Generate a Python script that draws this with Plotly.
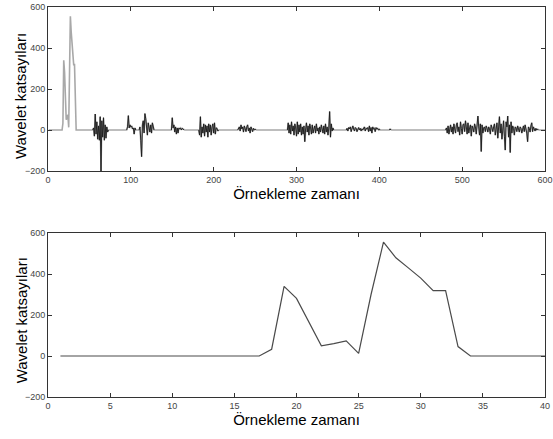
import numpy as np
import plotly.graph_objects as go
from plotly.subplots import make_subplots

# ---- data ----
# lower panel: first 40 samples
zoom_x = list(range(1, 41))
zoom_vals = [0, 0, 0, 0, 0, 0, 0, 0, 0, 0, 0, 0, 0, 0, 0, 0, 0,
             33, 340, 281, 165, 50, 60, 74, 13, 300, 555, 479, 430, 380,
             319, 319, 46, 0, 0, 0, 0, 0, 0, 0]

# upper panel: 600 samples, zero except for these bursts (start sample -> values)
burst_starts = [55, 96, 110, 149, 182, 229, 289, 360, 413, 480]
burst_A = [10, -30, 78, -20, 40, -45, 20, -50, 65, -200, 45, -35, 60, -50, 25, -40, 15, -10]
burst_B = [15, 70, 10, 25, 15, 20, 5, 10, -20, 10, 0]
burst_C = [0, 15, -50, -130, 25, 45, -15, 80, 55, 15, -25, 35, 10, -10, 25, -15, 35, 10, 0]
burst_D = [0, 60, 10, 25, -10, 15, -20, 10, -15, 10, 5, 10, 0, 8, 5, 0]
burst_E = [0, -25, 65, -35, 15, -15, 30, -30, 25, -10, 20, -35, 30, -10, 25, -25, 15, 30,
           -15, 35, -20, 10, 8, -5, 0]
burst_F = [0, 8, 15, -5, 25, 5, 15, -10, 20, 8, -8, 15, 25, -5, 10, -15, 15, 5, -8, 8, 0, 4, 0]
burst_G = [0, 35, -15, 25, -20, 40, -5, 20, -25, 30, 10, -30, 40, -20, 25, -10, 30, -25, 15,
           -20, 20, -57, 5, 35, -10, 20, -25, 30, 10, -20, 25, -15, 5, 20, -15, 30, -5, 10,
           -20, 15, -10, 25, 5, -15, 20, -20, 30, -10, 15, -25, 10, 90, -35, 30, -5, 10, 0]
burst_H = [0, 8, -5, 12, 5, 15, -8, 8, 20, 5, -5, 12, 8, -8, 5, 12, 0, 8, -5, 5, 0, 8,
           15, -5, 8, 5, 12, -8, 20, -5, 12, -15, 15, 5, 8, -8, 12, 5, 8, 0, 4, 0]
burst_J = [5]
burst_I = [0, 10, -15, 20, -20, 8, 25, -10, 15, -20, 30, 5, -15, 25, 35, -8, 15, -25, 40, 8,
           -20, 25, 30, -8, 45, 15, -20, 35, -15, 10, 25, -30, 20, 8, -10, 30, 15, -20, 25, 68,
           15, -25, 30, -105, 25, -15, 10, 15, -8, 20, 8, -10, 15, 5, -20, 25, 10, -8, 15, 30,
           -25, 20, 35, -40, 10, 65, -15, 30, -45, 25, 45, -30, -98, 40, 15, 68, -35, 25, -110, 40,
           -15, 20, 8, -25, 15, 10, -8, 20, 5, -10, 15, 8, -15, 10, 20, -8, 25, 5, -15, -57,
           15, 8, -10, 20, 35, -8, 15, 5, -5, 8, 0, 4, 0]
bursts = [burst_A, burst_B, burst_C, burst_D, burst_E, burst_F, burst_G, burst_H, burst_J, burst_I]

full_x = np.arange(1, 601)
full_vals = np.zeros(600)
full_vals[:40] = zoom_vals
for s, b in zip(burst_starts, bursts):
    full_vals[s - 1:s - 1 + len(b)] = b

active = np.array([(full_vals[max(i - 1, 0):i + 2] != 0).any() for i in range(600)])
active[:40] = False
burst_overlay = np.where(active, full_vals, np.nan)

x_ticks_top = [0, 100, 200, 300, 400, 500, 600]
x_ticks_bot = [0, 5, 10, 15, 20, 25, 30, 35, 40]
y_ticks = [-200, 0, 200, 400, 600]
y_title = "Wavelet katsayıları"
x_title = "Örnekleme zamanı"

# ---- figure ----
fig = make_subplots(rows=2, cols=1)
fig.add_trace(go.Scatter(x=full_x, y=full_vals, mode="lines",
                         line=dict(color="#a8a8a8", width=1.6), showlegend=False), 1, 1)
fig.add_trace(go.Scatter(x=full_x, y=burst_overlay, mode="lines",
                         line=dict(color="#1a1a1a", width=0.9), showlegend=False,
                         connectgaps=False), 1, 1)
fig.add_trace(go.Scatter(x=zoom_x, y=zoom_vals, mode="lines",
                         line=dict(color="#4a4a4a", width=1.2), showlegend=False), 2, 1)

axis_common = dict(showgrid=False, zeroline=False, showline=True, linecolor="#333333",
                   linewidth=1, mirror="ticks", ticks="inside", ticklen=4, automargin=False,
                   tickcolor="#333333", tickfont=dict(family="Liberation Sans", size=9, color="#444444"))
title_font = dict(family="Liberation Sans", size=15, color="#000")

fig.update_xaxes(range=[0, 600], tickvals=x_ticks_top, row=1, col=1, **axis_common,
                 title=dict(text=x_title, standoff=2, font=title_font))
fig.update_xaxes(range=[0, 40], tickvals=x_ticks_bot, row=2, col=1, **axis_common,
                 title=dict(text=x_title, standoff=2, font=title_font))
for r in (1, 2):
    fig.update_yaxes(range=[-200, 600], tickvals=y_ticks, row=r, col=1, **axis_common)

# y-axis titles as rotated annotations (paper coords)
for ypos in (0.772, 0.197):
    fig.add_annotation(text=y_title, xref="paper", yref="paper", x=-0.054, y=ypos,
                       xanchor="center", yanchor="middle", textangle=-90,
                       showarrow=False, font=title_font)

fig.update_layout(
    width=553, height=439,
    margin=dict(l=48, r=8, t=7, b=42),
    paper_bgcolor="white", plot_bgcolor="white",
    yaxis=dict(domain=[0.5795, 1.0]),
    yaxis2=dict(domain=[0.0, 0.4205]),
    xaxis=dict(anchor="y"), xaxis2=dict(anchor="y2"),
)
fig.write_html("out.html", post_script="document.body.style.margin='0px';",
               config={"displayModeBar": False})
